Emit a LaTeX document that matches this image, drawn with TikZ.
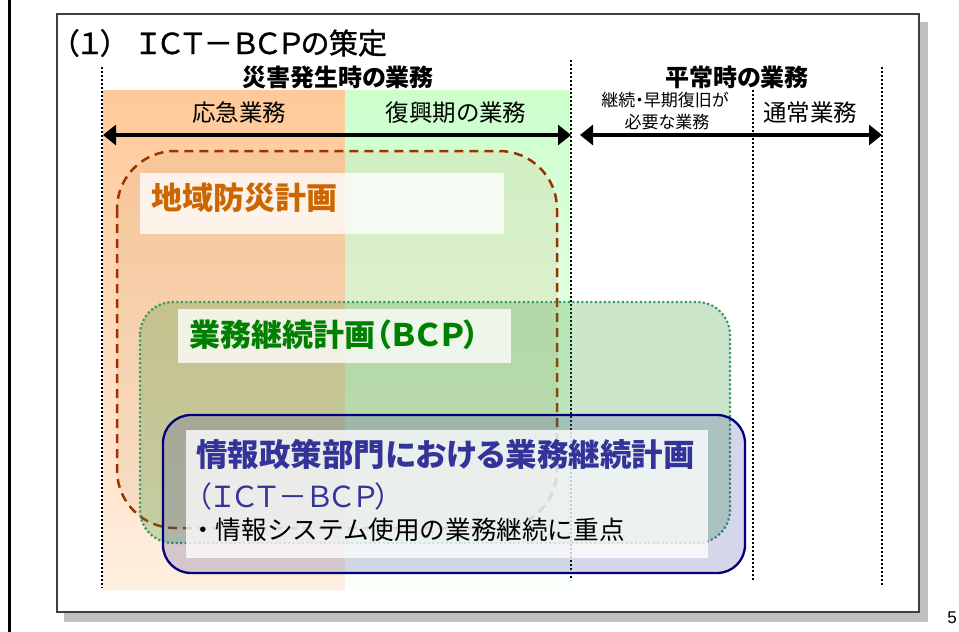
\documentclass[tikz,border=0pt]{standalone}
\usepackage{fontspec}
\setmainfont{Noto Sans CJK JP}[RawFeature=+palt]
\newfontfamily\nopalt{Noto Sans CJK JP}
\newfontfamily\titlefont{Noto Sans CJK JP}[RawFeature=+palt, FakeBold=1.2]
\newfontfamily\numfont{Liberation Sans}
\usetikzlibrary{arrows.meta}
\definecolor{orTop}{HTML}{FFC999}
\definecolor{orBot}{HTML}{FFEFE0}
\definecolor{grTop}{HTML}{CCFFCC}
\definecolor{grBot}{HTML}{FBFFFB}
\definecolor{brownline}{HTML}{993300}
\definecolor{dotgreen}{HTML}{339966}
\definecolor{bcpfill}{HTML}{339933}
\definecolor{navyline}{HTML}{000080}
\definecolor{icttext}{HTML}{333399}
\definecolor{orangetext}{HTML}{CC6600}
\definecolor{greentext}{HTML}{008000}
\definecolor{tintfill}{HTML}{CC9966}
\definecolor{shadowgray}{HTML}{C0C0C0}
\newcommand\fsz[1]{\fontsize{#1}{#1}\selectfont}
\tikzset{
  vdots/.style={line width=2pt, dash pattern=on 2pt off 2pt, black},
  harrow/.style={line width=3.5pt, {Triangle[length=13pt,width=20pt]}-{Triangle[length=13pt,width=20pt]}},
  hdr/.style={inner sep=0pt, font=\fsz{24}\bfseries},
  col/.style={inner sep=0pt, font=\fsz{23.5}},
  small/.style={inner sep=0pt, font=\fsz{17}},
  labelbox/.style={fill=white, fill opacity=0.78, draw=none, inner sep=0pt, anchor=north west},
  bigtext/.style={inner sep=0pt, anchor=west, font=\fsz{31}\bfseries},
}
\begin{document}
\begin{tikzpicture}[x=1pt, y=-1pt]
\useasboundingbox (0,0) rectangle (959,632);
\fill[white] (0,0) rectangle (959,632);
% left margin line
\draw[line width=2.7pt] (9.7,0) -- (9.7,632);
% slide shadow and frame
\fill[shadowgray] (64,22) rectangle (928,622);
\draw[fill=white, draw=black!75, line width=1.3pt] (57,14) rectangle (919,612);
% title
\node[inner sep=0pt, anchor=west, font=\titlefont\fsz{29}] (title) at (64,43) {（１）\hspace{22pt}ＩＣＴ－ＢＣＰの策定};
% columns
\shade[top color=orTop, bottom color=orBot] (103,90) rectangle (345,589);
\shade[top color=grTop, bottom color=grBot] (345,90) rectangle (571,589);
% vertical dotted lines
\draw[vdots] (102,67) -- (102,588);
\draw[vdots] (571,60) -- (571,580);
\draw[vdots] (753,90) -- (753,580);
\draw[vdots] (882,67) -- (882,587);
% headers
\node[hdr] (h1) at (338,77) {災害発生時の業務};
\node[hdr] (h2) at (737,77) {平常時の業務};
\node[col] (c1) at (239,113) {応急業務};
\node[col] (c2) at (456,113) {復興期の業務};
\node[small] (c3a) at (665,100) {継続・早期復旧が};
\node[small] (c3b) at (667,122) {必要な業務};
\node[col] (c4) at (810,113) {通常業務};
% arrows
\coordinate (a1l) at (103,135);
\coordinate (a1r) at (571,135);
\coordinate (a2l) at (580,135);
\coordinate (a2r) at (882,135);
\draw[harrow] (a1l) -- (a1r);
\draw[harrow] (a2l) -- (a2r);
% regional disaster plan box
\draw[rounded corners=58pt, fill=tintfill, fill opacity=0.15, draw=brownline, line width=2.5pt, dash pattern=on 9pt off 6pt] (117,151) rectangle (557,528);
% BCP box
\draw[rounded corners=33pt, fill=bcpfill, fill opacity=0.25, draw=dotgreen, line width=2.2pt, dash pattern=on 2.2pt off 2.3pt] (140,302) rectangle (730,543);
% ICT-BCP box
\draw[rounded corners=28pt, fill=icttext, fill opacity=0.2, draw=navyline, line width=2.3pt] (163,415) rectangle (745,573);
% labels
\node[labelbox, minimum width=364pt, minimum height=61pt] (lb1) at (140,173) {};
\node[bigtext, text=orangetext] (t1) at (151,198) {地域防災計画};
\node[labelbox, minimum width=333pt, minimum height=54pt] (lb2) at (178,309) {};
\node[bigtext, text=greentext] (t2) at (189,335) {業務継続計画（ＢＣＰ）};
\node[labelbox, minimum width=522pt, minimum height=128pt] (lb3) at (186,430) {};
\node[bigtext, text=icttext, font=\fsz{31.5}\bfseries] (t3) at (196,454) {情報政策部門における業務継続計画};
\node[inner sep=0pt, anchor=west, font=\fsz{29}, text=icttext] (t4) at (197,496) {（ＩＣＴ－ＢＣＰ）};
\node[inner sep=0pt, anchor=west, font=\nopalt\fsz{25.6}] (t5) at (190,530) {・情報システム使用の業務継続に重点};
% page number
\node[inner sep=0pt, font=\numfont\fsz{17}] (pg) at (952,618) {5};
\end{tikzpicture}
\end{document}
